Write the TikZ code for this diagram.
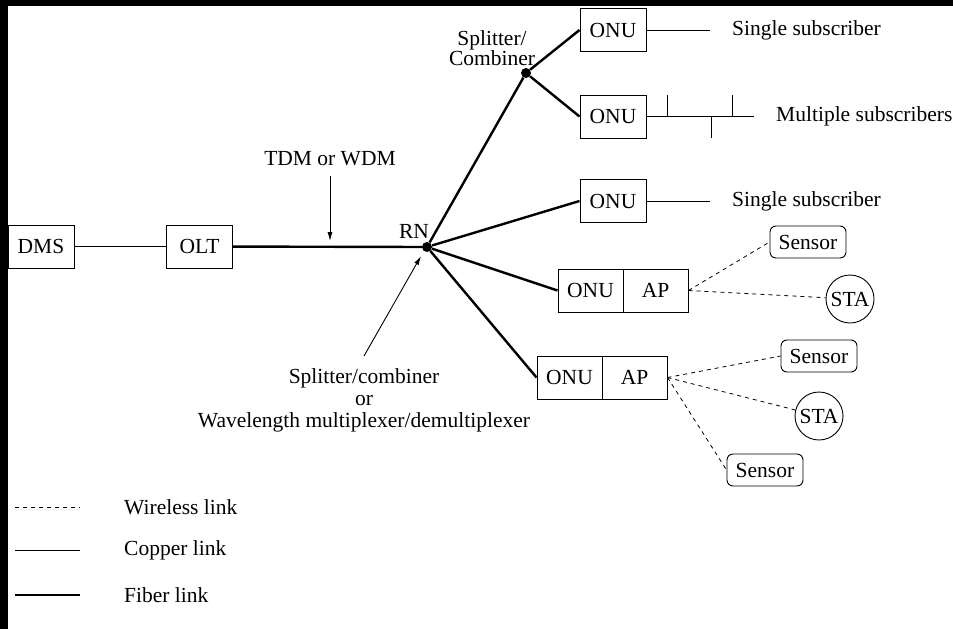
\documentclass[tikz,border=0pt]{standalone}
\usepackage{fontspec}
\setmainfont{Liberation Serif}
\usetikzlibrary{arrows.meta}
\begin{document}
\begin{tikzpicture}[x=1pt,y=-1pt,
  font=\fontsize{21.5}{22}\selectfont,
  box/.style={draw, line width=1pt, minimum width=66pt, minimum height=43pt, inner sep=0pt},
  halfbox/.style={draw, line width=1pt, minimum width=65pt, minimum height=43pt, inner sep=0pt},
  sensorbox/.style={draw, line width=0.9pt, rounded corners=6pt, minimum width=76pt, minimum height=32pt, inner sep=0pt},
  stabox/.style={draw, line width=0.9pt, circle, minimum size=48pt, inner sep=0pt},
  dot/.style={circle, fill, inner sep=0pt, minimum size=10pt},
  copper/.style={line width=1pt},
  fiber/.style={line width=2.4pt},
  wireless/.style={line width=0.8pt, dash pattern=on 4pt off 4pt},
  tip/.style={-{Latex[length=9pt,width=5pt]}, line width=0.9pt}]
\useasboundingbox (0,0) rectangle (953,629);
\fill (0,0) rectangle (953,6);
\fill (0,0) rectangle (8,629);
% head end
\node[box] (dms) at (41,246.5) {DMS};
\node[box] (olt) at (199.5,246.5) {OLT};
\node[dot] (rn) at (427,247) {};
\node[inner sep=0pt] (rnlabel) at (414,231) {RN};
\node[dot] (sc) at (526,73) {};
\node[align=center, inner sep=0pt] (sclabel) at (492,48) {Splitter/\\[-2pt]Combiner};
% onus
\node[box] (onua) at (613,30) {ONU};
\node[box] (onub) at (613,116.5) {ONU};
\node[box] (onuc) at (613,201) {ONU};
\node[halfbox] (onud) at (590.5,290.5) {ONU};
\node[halfbox] (apd) at (655.5,290.5) {AP};
\node[halfbox] (onue) at (569.5,377.5) {ONU};
\node[halfbox] (ape) at (634.5,377.5) {AP};
% subscribers
\coordinate (enda) at (710,30);
\coordinate (endb) at (754,116.5);
\coordinate (endc) at (710,201);
\node[anchor=west, inner sep=0pt] (suba) at (732,30) {Single subscriber};
\node[anchor=west, inner sep=0pt] (subb) at (776,116.5) {Multiple subscribers};
\node[anchor=west, inner sep=0pt] (subc) at (732,201) {Single subscriber};
% wireless terminals
\node[sensorbox] (sena) at (808,242) {Sensor};
\node[stabox] (staa) at (850,299) {STA};
\node[sensorbox] (senb) at (819,356) {Sensor};
\node[stabox] (stab) at (819,416) {STA};
\node[sensorbox] (senc) at (765,470) {Sensor};
% annotations
\node[inner sep=0pt] (tdm) at (330,159) {TDM or WDM};
\coordinate (tdmtip) at (330,241);
\node[align=center, inner sep=0pt] (mux) at (364,400) {Splitter/combiner\\or\\Wavelength multiplexer/demultiplexer};
\coordinate (muxtip) at (421,256);
% links
\draw[copper] (dms) -- (olt);
\draw[fiber] (olt) -- (rn);
\draw[fiber] (rn) -- (sc);
\draw[fiber] (sc) -- (onua.west);
\draw[fiber] (sc) -- (onub.west);
\draw[fiber] (rn) -- (onuc.west);
\draw[fiber] (rn) -- (onud.west);
\draw[fiber] (rn) -- (onue.west);
\draw[copper] (onua) -- (enda);
\draw[copper] (onub) -- (endb);
\draw[copper] (onuc) -- (endc);
\draw[copper] (667,116.5) -- ++(0,-22);
\draw[copper] (732,116.5) -- ++(0,-22);
\draw[copper] (711,116.5) -- ++(0,21);
\draw[wireless] (apd.east) -- (sena.west);
\draw[wireless] (apd.east) -- (staa);
\draw[wireless] (ape.east) -- (senb.west);
\draw[wireless] (ape.east) -- (stab);
\draw[wireless] (ape.east) -- (senc.west);
\draw[tip] ([yshift=-10pt]tdm.south) -- (tdmtip);
\draw[tip] ([yshift=12pt]mux.north) -- (muxtip);
% legend
\draw[wireless] (15,507) -- (80,507);
\draw[copper] (15,550) -- (80,550);
\draw[fiber] (15,595) -- (80,595);
\node[anchor=west, inner sep=0pt] (lgwire) at (124,507) {Wireless link};
\node[anchor=west, inner sep=0pt] (lgcopper) at (124,550) {Copper link};
\node[anchor=west, inner sep=0pt] (lgfiber) at (124,595) {Fiber link};
\end{tikzpicture}
\end{document}
